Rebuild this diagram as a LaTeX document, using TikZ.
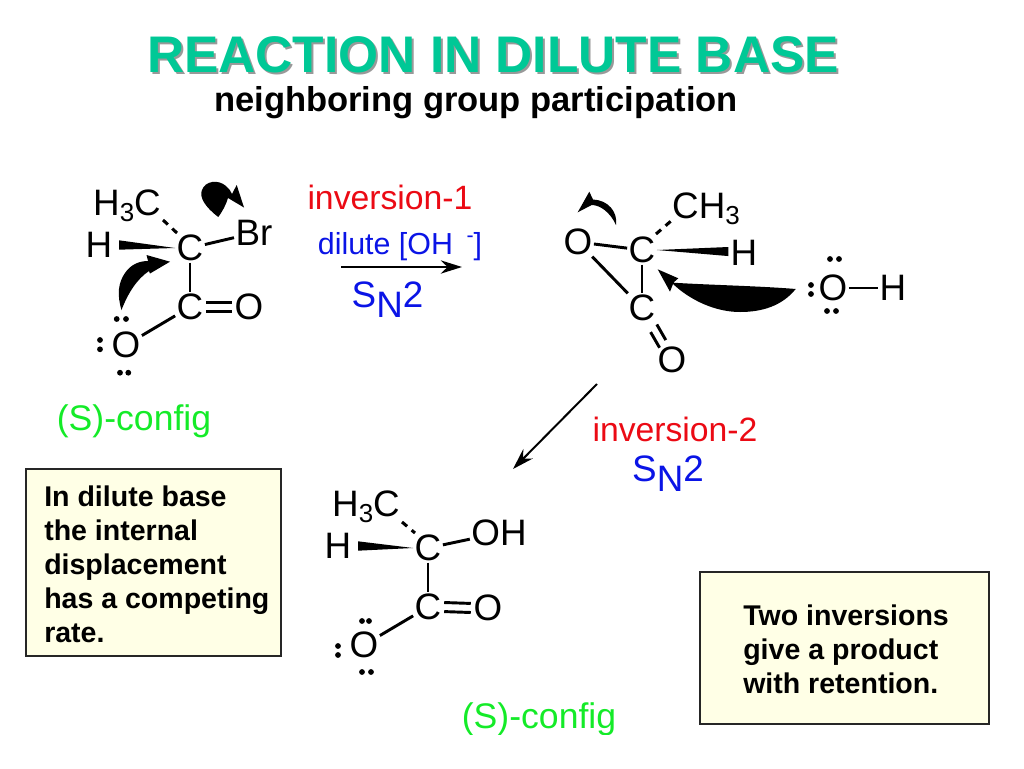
\documentclass[tikz,border=0pt]{standalone}
\usepackage{fontspec}
\setmainfont{Liberation Sans}
\usetikzlibrary{arrows.meta,calc}
\definecolor{titlegreen}{HTML}{00C896}
\definecolor{confgreen}{HTML}{14EB28}
\definecolor{chemblue}{HTML}{0A14E6}
\definecolor{chemred}{HTML}{EB0A14}
\definecolor{boxfill}{HTML}{FFFFE6}
\newcommand{\fsz}[1]{\fontsize{#1}{#1}\selectfont}
\newcommand{\lowsub}[1]{\raisebox{-0.32ex}{\fontsize{19.5}{19.5}\selectfont #1}}
\tikzset{
  atom/.style={inner sep=1pt,font=\fsz{27.6},text=black},
  bond/.style={line width=2.2pt,black},
  hash/.style={line width=2.3pt,black,dash pattern=on 5pt off 4.5pt},
  lp/.style={black},
  titletext/.style={inner sep=0pt,font=\fsz{38.6}\bfseries},
  subtitle/.style={inner sep=0pt,font=\fsz{25.9}\bfseries,text=black},
  redlabel/.style={inner sep=0pt,font=\fsz{25.3},text=chemred},
  bluelabel/.style={inner sep=0pt,font=\fsz{27.6},text=chemblue},
  greenlabel/.style={inner sep=0pt,font=\fsz{26.7},text=confgreen},
  notebox/.style={draw=black!85,line width=0.9pt,fill=boxfill,anchor=north west,inner sep=0pt},
  notetext/.style={inner sep=0pt,anchor=north west,align=left,font=\fontsize{21.4}{25.5}\selectfont\bfseries,text=black},
  rxnarrow/.style={line width=1.5pt,black,-{Stealth[length=16pt,width=10pt]}}
}
\begin{document}
\begin{tikzpicture}[x=0.75pt,y=-0.75pt]
\useasboundingbox (0,0) rectangle (1024,768);
% title
\node[titletext,text=black!40] (titleshadow) at (495,57) {REACTION IN DILUTE BASE};
\node[titletext,text=titlegreen] (title) at (493,55) {REACTION IN DILUTE BASE};
\node[subtitle] (sub) at (476,102.5) {neighboring group participation};

% molecule 1
\node[atom] (ac) at (190,248) {C};
\node[atom] (abr) at (254,233) {Br};
\node[atom] (ach) at (127,206) {H\lowsub{3}C};
\node[atom] (ah) at (99,245) {H};
\node[atom] (ac2) at (190,307) {C};
\node[atom] (ao) at (249,307) {O};
\node[atom] (ao2) at (126,345) {O};
\draw[bond] (ac) -- (abr);
\draw[bond] (ac) -- (ac2);
\draw[bond] (ac2) -- (ao2);
\draw[bond,shorten >=1pt,shorten <=1pt] ([yshift=-3.4pt]ac2.east) -- ([yshift=-3.4pt]ao.west);
\draw[bond,shorten >=1pt,shorten <=1pt] ([yshift=3.4pt]ac2.east) -- ([yshift=3.4pt]ao.west);
\draw[hash] ([shift={(36,14)}]ach.center) -- ([shift={(-13,-15)}]ac.center);
\fill ([xshift=4pt,yshift=-3.5pt]ah.east) -- ([xshift=4pt,yshift=3.5pt]ah.east) -- (ac.west) -- cycle;
\foreach \p in {(116.7,319),(126,319),(100,340),(100,349.3),(120,372.7),(128.3,372.7)} \fill[lp] \p circle (2.9);
% curved arrows 1
\fill (218.3,217) .. controls (205,207) and (199,197) .. (202,190) .. controls (205,181) and (218,179) .. (226,186) .. controls (229,189) and (231,191) .. (232,194) -- (236.7,185) -- (244,207.5) -- (228,198) .. controls (226,205) and (222,212) .. (218.3,217) -- cycle;
\fill (121.5,310) .. controls (117,295) and (118,283) .. (125,273) .. controls (131,264) and (140,261) .. (148,261) -- (146.5,255) -- (170,261.7) -- (150,273.5) -- (149,271) .. controls (137,279) and (128,293) .. (121.5,310) -- cycle;

% molecule 2
\node[atom] (bc) at (642,250) {C};
\node[atom] (bo) at (578,242) {O};
\node[atom] (bch) at (706,209) {CH\lowsub{3}};
\node[atom] (bh) at (744,253) {H};
\node[atom] (bc2) at (642,308) {C};
\node[atom] (bo2) at (672,360) {O};
\node[atom] (oho) at (833,288) {O};
\node[atom] (ohh) at (893,288) {H};
\draw[bond] (bo) -- (bc);
\draw[bond] (bo) -- (bc2);
\draw[bond] (bc) -- (bc2);
\draw[bond] ([xshift=-3pt,yshift=-1.7pt]$(bc2)!0.42!(bo2)$) -- ([xshift=-3pt,yshift=-1.7pt]$(bc2)!0.72!(bo2)$);
\draw[bond] ([xshift=3pt,yshift=1.7pt]$(bc2)!0.36!(bo2)$) -- ([xshift=3pt,yshift=1.7pt]$(bc2)!0.66!(bo2)$);
\draw[bond] (oho) -- (ohh);
\draw[hash] ([shift={(14,-16)}]bc.center) -- ([shift={(-35,12)}]bch.center);
\fill (bc.east) -- ([xshift=-0.5pt,yshift=-2.3pt]bh.west) -- ([xshift=-0.5pt,yshift=4.5pt]bh.west) -- cycle;
\foreach \p in {(830,259),(839,259),(811,285),(811,294),(827,311),(836,311)} \fill[lp] \p circle (2.9);
% curved arrows 2
\fill (616,225) .. controls (618,212) and (608,200) .. (593,199.5) -- (589.3,191.7) -- (577.7,212.3) -- (591.7,205) .. controls (600,205) and (610,212) .. (616,225) -- cycle;
\fill (795.7,289) .. controls (782,306) and (762,312) .. (740,312) .. controls (715,312) and (690,300) .. (673,284) -- (670,291.7) -- (657.7,269.3) -- (678.3,278.3) -- (673.3,282.7) .. controls (710,285) and (760,286) .. (795.7,289) -- cycle;

% molecule 3
\node[atom] (cc) at (428,548) {C};
\node[atom] (ch3c) at (366,507) {H\lowsub{3}C};
\node[atom] (ch) at (338,546) {H};
\node[atom] (coh) at (499,533) {OH};
\node[atom] (cc2) at (428,607) {C};
\node[atom] (co) at (488,608) {O};
\node[atom] (co2) at (364,645) {O};
\draw[bond] (cc) -- (coh);
\draw[bond] (cc) -- (cc2);
\draw[bond] (cc2) -- (co2);
\draw[bond,shorten >=1pt,shorten <=1pt] ([yshift=-3.4pt]cc2.east) -- ([yshift=-3.4pt]co.west);
\draw[bond,shorten >=1pt,shorten <=1pt] ([yshift=3.4pt]cc2.east) -- ([yshift=3.4pt]co.west);
\draw[hash] ([shift={(36,15)}]ch3c.center) -- ([shift={(-13,-15)}]cc.center);
\fill ([xshift=4pt,yshift=-3.5pt]ch.east) -- ([xshift=4pt,yshift=3.5pt]ch.east) -- (cc.west) -- cycle;
\foreach \p in {(362,621),(369,621),(338,646),(338,655),(362,672),(371,672)} \fill[lp] \p circle (2.9);

% reaction labels and arrows
\node[redlabel] (inv1) at (390,197) {inversion-1};
\node[inner sep=0pt,font=\fsz{22.8},text=chemblue] (dil) at (400,247) {dilute [OH \,\raisebox{0.75ex}{\fsz{16}-}]};
\coordinate (a1s) at (341,267);
\coordinate (a1e) at (462,267);
\draw[rxnarrow] (a1s) -- (a1e);
\node[bluelabel] (sn1) at (387.5,300) {S\raisebox{-0.5ex}{N}2};
\coordinate (a2s) at (597,384);
\coordinate (a2e) at (513,469);
\draw[rxnarrow] (a2s) -- (a2e);
\node[redlabel] (inv2) at (675,429) {inversion-2};
\node[bluelabel] (sn2) at (668,474) {S\raisebox{-0.5ex}{N}2};
\node[greenlabel] (cfg1) at (134,421) {(S)-config};
\begin{scope}
\clip (440,690) rectangle (640,734);
\node[greenlabel] (cfg2) at (539,719) {(S)-config};
\end{scope}

% notes
\draw[notebox] (26,469) rectangle (281,656);
\node[notetext] (note1) at (44,486) {In dilute base\\the internal\\displacement\\has a competing\\rate.};
\draw[notebox] (700,572) rectangle (989,724);
\node[notetext] (note2) at (743,605) {Two inversions\\give a product\\with retention.};
\end{tikzpicture}
\end{document}
